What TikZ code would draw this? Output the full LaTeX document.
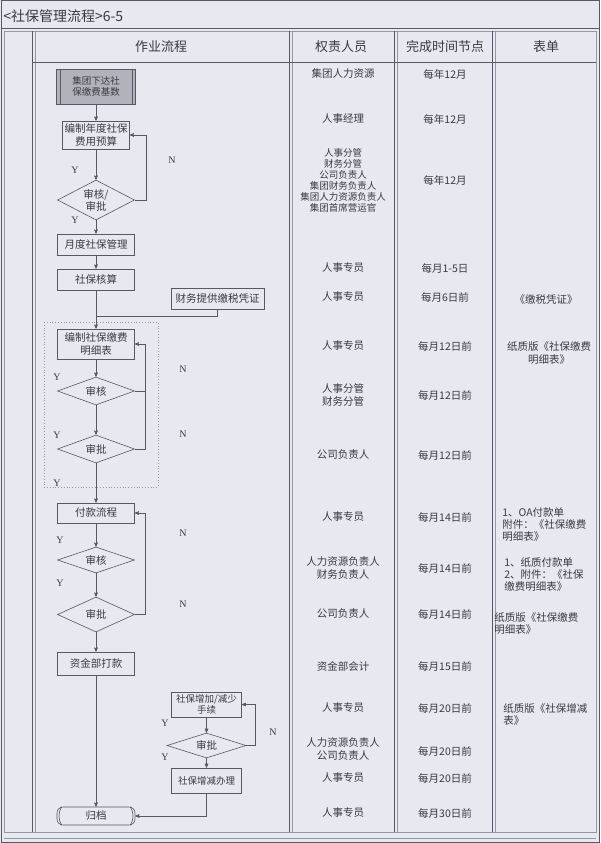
\documentclass[tikz,border=0pt]{standalone}
\usepackage{fontspec}
\setmainfont{Noto Sans CJK SC}
\newfontfamily\ynfont{Liberation Serif}
\usepackage{tikz}
\usetikzlibrary{arrows,positioning,shapes.geometric}

\definecolor{paper}{RGB}{232,232,241}
\definecolor{rule}{RGB}{88,88,100}
\definecolor{softrule}{RGB}{150,150,165}
\definecolor{ink}{RGB}{58,58,64}
\definecolor{shade}{RGB}{178,178,188}

\begin{document}
\begin{tikzpicture}[x=1pt,y=-1pt,->,>=stealth',line width=0.6pt,color=rule,
    every node/.style={text=ink},
    box/.style={rectangle,draw=rule,minimum width=77pt,minimum height=21pt,
      inner sep=1pt,align=center,font=\fontsize{10.5}{12.5}\selectfont},
    prebox/.style={box,fill=shade,minimum width=79pt,minimum height=35pt,
      font=\fontsize{9.5}{11.5}\selectfont},
    subbox/.style={box,minimum width=70pt,minimum height=25pt,
      font=\fontsize{9.5}{11.5}\selectfont},
    archive/.style={box,rounded corners=6pt,minimum width=78pt,minimum height=18pt},
    decision/.style={diamond,draw=rule,aspect=2,inner sep=0pt,minimum width=77pt,
      minimum height=28pt,align=center,font=\fontsize{10.5}{12}\selectfont},
    yn/.style={inner sep=0pt,font=\ynfont\fontsize{10}{10}\selectfont},
    duty/.style={inner sep=0pt,align=center,font=\fontsize{10.5}{12.5}\selectfont},
    dutylist/.style={duty,font=\fontsize{9.5}{11}\selectfont},
    form/.style={inner sep=0pt,anchor=west,align=left,font=\fontsize{10.5}{12}\selectfont},
    head/.style={inner sep=0pt,font=\fontsize{13}{13}\selectfont}]

  \fill[paper,-] (0,0) rectangle (600,843);
  \useasboundingbox (0,0) rectangle (600,843);

  % frame of the sheet
  \begin{scope}[-]
    \draw[line width=1pt] (1,1) rectangle (599,842);
    \draw[softrule] (4,31) rectangle (596,832);
    \draw[line width=0.9pt] (1,28) -- (599,28);
    \draw[softrule] (4,838) -- (596,838);
    \draw[line width=0.9pt] (32,31) -- (32,832);
    \draw[softrule] (35.5,31) -- (35.5,832);
    \draw[line width=0.9pt] (289,31) -- (289,832);
    \draw[softrule] (292.5,31) -- (292.5,832);
    \draw[line width=0.9pt] (394,31) -- (394,832);
    \draw[softrule] (397.5,31) -- (397.5,832);
    \draw[line width=0.9pt] (492,31) -- (492,832);
    \draw[softrule] (495.5,31) -- (495.5,832);
    \draw[line width=0.9pt] (32,62) -- (596,62);
    \draw[softrule,dotted,line width=0.8pt] (44,322) rectangle (158,487);
  \end{scope}

  \node[inner sep=0pt,anchor=west,font=\fontsize{14}{14}\selectfont] (title) at (3,16) {<社保管理流程>6-5};
  \node[head] (h1) at (161,47) {作业流程};
  \node[head] (h2) at (341,47) {权责人员};
  \node[head] (h3) at (445,47) {完成时间节点};
  \node[head] (h4) at (546,47) {表单};

  % flow
  \node[prebox] (issue) at (96,86.5) {集团下达社\\保缴费基数};
  \node[box,minimum width=67pt,minimum height=28pt] (budget) at (96,135) {编制年度社保\\费用预算};
  \node[decision,minimum height=40pt] (audit1) at (96,200) {审核/\\审批};
  \node[box] (monthly) at (96,244.5) {月度社保管理};
  \node[box] (account) at (96,279.5) {社保核算};
  \node[box,minimum width=93pt] (taxdoc) at (217.5,299) {财务提供缴税凭证};
  \node[box,minimum height=30pt] (detail) at (96,344) {编制社保缴费\\明细表};
  \node[decision] (audit2) at (96,391) {审核};
  \node[decision] (approve2) at (96,449) {审批};
  \node[box,minimum height=20pt] (payment) at (96,513) {付款流程};
  \node[decision,minimum height=26pt] (audit3) at (96,560) {审核};
  \node[decision,minimum height=35pt] (approve3) at (96,614.5) {审批};
  \node[box,minimum height=23pt] (transfer) at (96,663.5) {资金部打款};
  \node[subbox] (change) at (206.5,704.5) {社保增加/减少\\手续};
  \node[decision,minimum width=79pt,minimum height=25pt] (approve4) at (206.5,745.5) {审批};
  \node[subbox] (handle) at (206.5,780.5) {社保增减办理};
  \node[archive] (file) at (96,816) {归档};
  \coordinate (merge) at (96,316);

  \draw[-] ([xshift=4pt]issue.north west) -- ([xshift=4pt]issue.south west);
  \draw[-] ([xshift=-4pt]issue.north east) -- ([xshift=-4pt]issue.south east);
  \draw[-] ([xshift=5pt]file.north west) to[bend right=30] ([xshift=5pt]file.south west);
  \draw[-] ([xshift=-5pt]file.north east) to[bend left=30] ([xshift=-5pt]file.south east);

  \path (issue) edge (budget)
        (budget) edge (audit1)
        (audit1) edge (monthly)
        (monthly) edge (account)
        (account) edge (detail)
        (detail) edge (audit2)
        (audit2) edge (approve2)
        (approve2) edge (payment)
        (payment) edge (audit3)
        (audit3) edge (approve3)
        (approve3) edge (transfer)
        (transfer) edge (file)
        (change) edge (approve4)
        (approve4) edge (handle);

  \draw (audit1.east) -- ++(11.5,0) |- (budget.east);
  \draw[-] (taxdoc.south) |- (merge);
  \draw[-] (audit2.east) -- ++(10.5,0);
  \draw (approve2.east) -- ++(10.5,0) |- (detail.east);
  \draw (approve3.east) -- ++(10.5,0) |- (payment.east);
  \draw (approve4.east) -- ++(9,0) |- (change.east);
  \draw (handle.south) |- (file.east);

  \node[yn] (y1) at (75,170) {Y};
  \node[yn] (y2) at (75,220) {Y};
  \node[yn] (y3) at (57,377) {Y};
  \node[yn] (y4) at (57,435) {Y};
  \node[yn] (y5) at (57,483) {Y};
  \node[yn] (y6) at (60,540) {Y};
  \node[yn] (y7) at (60,583) {Y};
  \node[yn] (y8) at (165,723) {Y};
  \node[yn] (y9) at (165,757) {Y};
  \node[yn] (n1) at (172,160) {N};
  \node[yn] (n2) at (183,369) {N};
  \node[yn] (n3) at (183,434) {N};
  \node[yn] (n4) at (183,533) {N};
  \node[yn] (n5) at (183,604) {N};
  \node[yn] (n6) at (273,732) {N};

  % duties, dates and forms
  \node[duty] (d1) at (343,74) {集团人力资源};
  \node[duty] (t1) at (445,74) {每年12月};
  \node[duty] (d2) at (343,119) {人事经理};
  \node[duty] (t2) at (445,119) {每年12月};
  \node[dutylist] (d3) at (343,180) {人事分管\\财务分管\\公司负责人\\集团财务负责人\\集团人力资源负责人\\集团首席营运官};
  \node[duty] (t3) at (445,180) {每年12月};
  \node[duty] (d4) at (343,268) {人事专员};
  \node[duty] (t4) at (445,268) {每月1-5日};
  \node[duty] (d5) at (343,297) {人事专员};
  \node[duty] (t5) at (445,297) {每月6日前};
  \node[duty] (f5) at (546,300) {《缴税凭证》};
  \node[duty] (d6) at (343,346) {人事专员};
  \node[duty] (t6) at (445,346) {每月12日前};
  \node[duty] (f6) at (549,353) {纸质版《社保缴费\\明细表》};
  \node[duty] (d7) at (343,395) {人事分管\\财务分管};
  \node[duty] (t7) at (445,395) {每月12日前};
  \node[duty] (d8) at (343,455) {公司负责人};
  \node[duty] (t8) at (445,455) {每月12日前};
  \node[duty] (d9) at (343,517) {人事专员};
  \node[duty] (t9) at (445,517) {每月14日前};
  \node[form] (f9) at (502,525) {1、OA付款单\\附件：《社保缴费\\明细表》};
  \node[duty] (d10) at (343,568) {人力资源负责人\\财务负责人};
  \node[duty] (t10) at (445,568) {每月14日前};
  \node[form] (f10) at (504,575) {1、纸质付款单\\2、附件：《社保\\缴费明细表》};
  \node[duty] (d11) at (343,614) {公司负责人};
  \node[duty] (t11) at (445,614) {每月14日前};
  \node[form] (f11) at (494,624) {纸质版《社保缴费\\明细表》};
  \node[duty] (d12) at (343,666) {资金部会计};
  \node[duty] (t12) at (445,666) {每月15日前};
  \node[duty] (d13) at (343,708) {人事专员};
  \node[duty] (t13) at (445,708) {每月20日前};
  \node[form] (f13) at (503,715) {纸质版《社保增减\\表》};
  \node[duty] (d14) at (343,749) {人力资源负责人\\公司负责人};
  \node[duty] (t14) at (445,751) {每月20日前};
  \node[duty] (d15) at (343,778) {人事专员};
  \node[duty] (t15) at (445,778) {每月20日前};
  \node[duty] (d16) at (343,813) {人事专员};
  \node[duty] (t16) at (445,813) {每月30日前};
\end{tikzpicture}
\end{document}
